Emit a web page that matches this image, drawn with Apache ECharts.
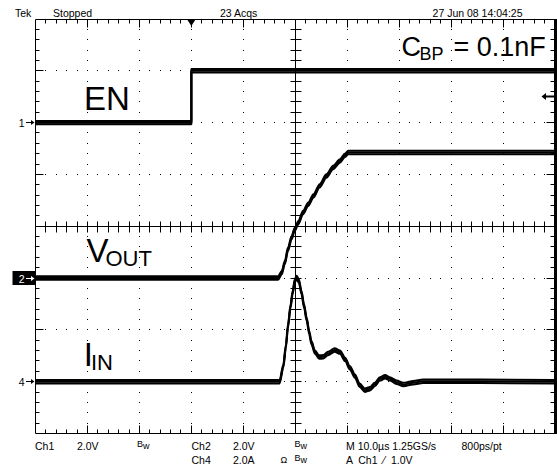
<!DOCTYPE html>
<html><head><meta charset="utf-8">
<script src="https://cdn.jsdelivr.net/npm/echarts@6/dist/echarts.min.js"></script>
<style>html,body{margin:0;padding:0;background:#fff}#c{width:557px;height:471px}</style>
</head><body><div id="c"></div>
<script>
// ---- scope settings ----
const timeRange = [-50, 50];      // µs, 10 µs/div
const divRange = [-4, 4];         // vertical divisions
const ch1Offset = 2, ch1Scale = 2.0;   // EN   (div, V/div)
const ch2Offset = -1, ch2Scale = 2.0;  // VOUT (div, V/div)
const ch4Offset = -3, ch4Scale = 2.0;  // IIN  (div, A/div)
const triggerTime = -20;          // µs
const triggerLevel = 1.0;         // V on Ch1
const markerLabels = ['1', '2', '4'];
const markerOffsets = [ch1Offset, ch2Offset, ch4Offset];

// ---- waveforms ----
const enTime = [-50, -20, -20, 50];
const enVolt = [0, 0, 2.0, 2.0];

const voutTime = [-50, -3.3, -2.6, -2.0, -1.4, -0.7, -0.1, 0.6, 1.5, 2.5, 3.5, 4.7, 6.0, 7.3, 8.6, 9.6, 10.2, 50];
const voutVolt = [0, 0, 0.21, 0.60, 1.11, 1.56, 1.88, 2.14, 2.53, 2.85, 3.17, 3.56, 3.94, 4.27, 4.52, 4.74, 4.85, 4.85];

const iinTime = [-50, -3.0, -2.3, -1.8, -1.4, -0.9, -0.5, -0.1, 0.25, 0.7, 1.2, 1.7, 2.2, 2.7, 3.1, 3.8, 4.6, 5.4, 6.3, 7.6, 8.6, 9.6, 10.5, 11.5, 12.4, 13.4, 14.4, 15.3, 16.3, 17.3, 18.2, 19.5, 20.8, 22.7, 24.6, 50];
const iinAmp = [0, 0, 0.60, 1.37, 2.15, 2.92, 3.44, 3.89, 4.02, 3.89, 3.44, 2.92, 2.41, 1.89, 1.51, 1.14, 0.95, 0.96, 1.09, 1.22, 1.14, 0.86, 0.54, 0.21, -0.14, -0.33, -0.27, -0.11, 0.11, 0.19, 0.11, -0.02, -0.11, -0.04, 0.02, 0];

const FONT = '"Liberation Sans", Arial, sans-serif';
const DELTA = 0.033; // trace noise half-thickness in divisions

function traceSeries(times, vals, offset, scale, smooth) {
  return [-1, 0, 1].map(k => ({
    type: 'line',
    data: times.map((t, i) => [t, offset + vals[i] / scale + k * DELTA]),
    symbol: 'none', showSymbol: false,
    smooth: smooth, smoothMonotone: 'x',
    lineStyle: { color: '#000', width: 2 },
    z: 3, animation: false
  }));
}

// graticule: merged into a few path elements, placed through api.coord
function gratRender(params, api) {
  const c = (x, y) => api.coord([x, y]);
  const f = v => Math.floor(v);
  const h = v => Math.floor(v) + 0.5;
  const [L, T] = c(timeRange[0], divRange[1]);
  const [R, B] = c(timeRange[1], divRange[0]);
  const [CX, CY] = c(0, 0);
  const segs = [], dots = [];
  const seg = (x1, y1, x2, y2) => segs.push('M' + x1 + ' ' + y1 + 'L' + x2 + ' ' + y2);
  const dot = (x, y) => { const a = f(x), b = f(y); dots.push('M' + a + ' ' + b + 'L' + (a + 1) + ' ' + b + 'L' + (a + 1) + ' ' + (b + 1) + 'L' + a + ' ' + (b + 1) + 'Z'); };
  seg(h(L), h(T), h(R), h(T));
  seg(h(L), h(B), h(R), h(B));
  seg(h(L), h(T), h(L), h(B));
  seg(h(L), h(CY), h(R), h(CY));
  seg(h(CX), h(T), h(CX), h(B));
  for (let i = -24; i <= 24; i++) {
    const px = c(i * 2, 0)[0];
    const len = (i % 5 === 0) ? 8 : 4;
    seg(h(px), h(T), h(px), h(T) + len);
    seg(h(px), h(B), h(px), h(B) - len);
    seg(h(px), h(CY) - 5, h(px), h(CY) + 6);
    for (let j = -3; j <= 3; j++) { if (j !== 0) dot(px, c(0, j)[1]); }
  }
  for (let i = -19; i <= 19; i++) {
    const py = c(0, i * 0.2)[1];
    const len = (i % 5 === 0) ? 8 : 4;
    seg(h(L), h(py), h(L) + len, h(py));
    seg(h(R) - 1, h(py), h(R) - 1 - len, h(py));
    seg(h(CX) - 5, h(py), h(CX) + 6, h(py));
    for (let j = -4; j <= 4; j++) { if (j !== 0) dot(c(j * 10, 0)[0], py); }
  }
  return { type: 'group', children: [
    { type: 'path', shape: { pathData: segs.join('') }, style: { stroke: '#000', lineWidth: 1, fill: 'none' } },
    { type: 'path', shape: { pathData: dots.join('') }, style: { fill: '#000', stroke: 'none' } },
    { type: 'rect', shape: { x: f(R) - 1, y: h(T) - 0.5, width: 3, height: h(B) - h(T) + 1 }, style: { fill: '#000', stroke: 'none' } }
  ] };
}

function txt(s, x, y, size, align, color) {
  return { type: 'text', x: x, y: y, z: 10, style: { text: s, font: size + 'px ' + FONT, fill: color || '#000', textAlign: align || 'left', align: align || 'left', textVerticalAlign: 'middle', verticalAlign: 'middle' } };
}

const chart = echarts.init(document.getElementById('c'), null, { renderer: 'svg' });
chart.setOption({
  animation: false,
  grid: { left: 35.5, right: 2, top: 19, bottom: 37.5, outerBoundsMode: 'none' },
  xAxis: { type: 'value', min: timeRange[0], max: timeRange[1], interval: 10, show: false },
  yAxis: { type: 'value', min: divRange[0], max: divRange[1], interval: 1, show: false },
  series: [
    { type: 'custom', data: [[0, 0]], renderItem: gratRender, clip: false, silent: true, z: 1 },
    ...traceSeries(enTime, enVolt, ch1Offset, ch1Scale, false),
    ...traceSeries(voutTime, voutVolt, ch2Offset, ch2Scale, 0.3),
    ...traceSeries(iinTime, iinAmp, ch4Offset, ch4Scale, 0.3)
  ]
});

// ---- annotations, positioned through the chart's own scales ----
const g = [];
const c = (x, y) => chart.convertToPixel({ gridIndex: 0 }, [x, y]);
const line = (x1, y1, x2, y2, w, col) => g.push({ type: 'line', z: 5, shape: { x1, y1, x2, y2 }, style: { stroke: col || '#000', lineWidth: w || 1 } });
const rect = (x, y, w, h, col) => g.push({ type: 'rect', z: 4, shape: { x, y, width: w, height: h }, style: { fill: col || '#000' } });
const poly = (pts, col) => g.push({ type: 'polygon', z: 5, shape: { points: pts }, style: { fill: col || '#000' } });

markerOffsets.forEach((o, idx) => {
  const p = c(timeRange[0], o);
  const x = Math.floor(p[0]), y = Math.floor(p[1]) + 0.5;
  const inv = idx === 1;
  const col = inv ? '#fff' : '#000';
  if (inv) rect(12.5, y - 7.5, x - 12.5, 14, '#000');
  g.push(txt(markerLabels[idx], x - 10.5, y, 10.5, 'right', col));
  line(x - 9, y, x - 3, y, 1, col);
  poly([[x - 0.5, y], [x - 4, y - 2.5], [x - 4, y + 2.5]], col);
});
{
  const p = c(triggerTime, divRange[1]);
  poly([[p[0] - 4.5, Math.floor(p[1])], [p[0] + 4.5, Math.floor(p[1])], [p[0], Math.floor(p[1]) + 7]]);
  const q = c(timeRange[1], ch1Offset + triggerLevel / ch1Scale);
  const x = Math.floor(q[0]), y = Math.floor(q[1]) + 0.5;
  line(x - 10, y, x - 1, y, 2);
  poly([[x - 13.5, y], [x - 9, y - 3.5], [x - 9, y + 3.5]]);
}
g.push(
  txt('Tek', 15, 12.5, 10.5),
  txt('Stopped', 53, 12.5, 10.5),
  txt('23 Acqs', 220, 12.5, 10.5),
  txt('27 Jun 08 14:04:25', 522.5, 12.5, 10.5, 'right'),
  txt('Ch1', 35, 445.5, 10.5), txt('2.0V', 77, 445.5, 10.5),
  txt('B', 137, 444, 9), txt('w', 143, 446, 9),
  txt('Ch2', 191.5, 445.5, 10.5), txt('2.0V', 233, 445.5, 10.5),
  txt('B', 294.5, 444, 9), txt('w', 300.5, 446, 9),
  txt('M 10.0µs 1.25GS/s', 346, 445.5, 10.5), txt('800ps/pt', 461.5, 445.5, 10.5),
  txt('Ch4', 191.5, 459.5, 10.5), txt('2.0A', 233, 459.5, 10.5),
  txt('Ω', 280.5, 459.5, 9),
  txt('B', 294.5, 458, 9), txt('w', 300.5, 460, 9),
  txt('A  Ch1  ⁄  1.0V', 346, 459.5, 10.5),
  txt('EN', 84, 98, 33),
  txt('V', 86.5, 250, 33), txt('OUT', 105.5, 258, 22),
  txt('I', 83.7, 354.2, 33), txt('IN', 91, 362.5, 22),
  txt('C', 401.5, 46.7, 27), txt('BP', 419.6, 54.3, 18), txt('= 0.1nF', 453.4, 46.7, 27)
);
chart.setOption({ graphic: { elements: g } });
</script></body></html>
